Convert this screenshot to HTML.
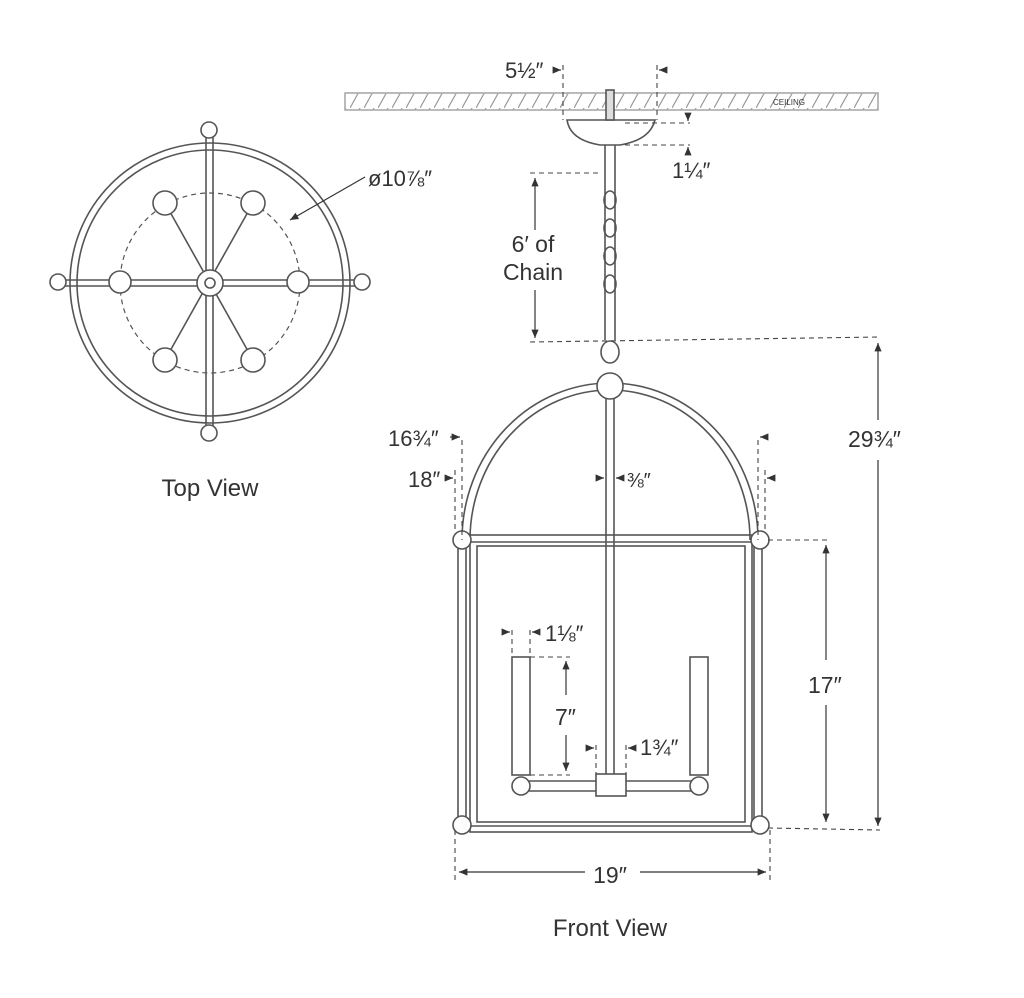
<!DOCTYPE html>
<html><head><style>
html,body{margin:0;padding:0;background:#fff;}
svg{display:block}
text{font-family:"Liberation Sans",sans-serif;fill:#333;}
</style></head><body>
<svg width="1024" height="998" viewBox="0 0 1024 998" xmlns="http://www.w3.org/2000/svg">
<defs>
<pattern id="h" width="14" height="18" patternUnits="userSpaceOnUse"><line x1="0" y1="18" x2="10" y2="0" stroke="#999" stroke-width="1.2"/></pattern>
<marker id="a" markerWidth="8" markerHeight="8" refX="7" refY="4" orient="auto"><path d="M0,1 L7,4 L0,7 z" fill="#333"/></marker>
</defs>
<g fill="none" stroke="#555" stroke-width="1.6">
<circle cx="210" cy="283" r="140"/>
<circle cx="210" cy="283" r="133"/>
<circle cx="210" cy="283" r="90" stroke-dasharray="5,4" stroke-width="1.2"/>
<line x1="58" y1="280" x2="362" y2="280"/><line x1="58" y1="286" x2="362" y2="286"/>
<line x1="206" y1="130" x2="206" y2="433"/><line x1="213" y1="130" x2="213" y2="433"/>
<line x1="165" y1="203" x2="253" y2="360"/><line x1="253" y1="203" x2="165" y2="360"/>
<g fill="#fff">
<circle cx="58" cy="282" r="8"/><circle cx="362" cy="282" r="8"/><circle cx="209" cy="130" r="8"/><circle cx="209" cy="433" r="8"/>
<circle cx="165" cy="203" r="12"/><circle cx="253" cy="203" r="12"/><circle cx="120" cy="282" r="11"/><circle cx="298" cy="282" r="11"/><circle cx="165" cy="360" r="12"/><circle cx="253" cy="360" r="12"/>
<circle cx="210" cy="283" r="13"/><circle cx="210" cy="283" r="5"/>
</g>
<rect x="345" y="93" width="533" height="17" fill="url(#h)" stroke="#aaa"/>
<path d="M567,120 L655,120 Q650,140 620,145 L600,145 Q570,140 567,120 Z" fill="#fff"/>
<rect x="606" y="90" width="8" height="30" fill="#ddd"/>
<line x1="605" y1="145" x2="605" y2="340"/><line x1="615" y1="145" x2="615" y2="340"/>
<ellipse cx="610" cy="200" rx="6" ry="9"/><ellipse cx="610" cy="228" rx="6" ry="9"/><ellipse cx="610" cy="256" rx="6" ry="9"/><ellipse cx="610" cy="284" rx="6" ry="9"/>
<ellipse cx="610" cy="352" rx="9" ry="11" fill="#fff"/>
<path d="M462,540 A148,157 0 0 1 758,540"/>
<path d="M470,540 A140,150 0 0 1 750,540"/>
<circle cx="610" cy="386" r="13" fill="#fff"/>
<line x1="606" y1="398" x2="606" y2="776"/><line x1="614" y1="398" x2="614" y2="776"/>
<line x1="458" y1="540" x2="458" y2="825"/><line x1="466" y1="540" x2="466" y2="825"/>
<line x1="754" y1="540" x2="754" y2="825"/><line x1="762" y1="540" x2="762" y2="825"/>
<rect x="470" y="535" width="282" height="297"/>
<rect x="477" y="546" width="268" height="276"/>
<line x1="470" y1="542" x2="752" y2="542"/><line x1="470" y1="826" x2="752" y2="826"/>
<g fill="#fff"><circle cx="462" cy="540" r="9"/><circle cx="760" cy="540" r="9"/><circle cx="462" cy="825" r="9"/><circle cx="760" cy="825" r="9"/></g>
<rect x="512" y="657" width="18" height="118"/><rect x="690" y="657" width="18" height="118"/>
<line x1="520" y1="781" x2="700" y2="781"/><line x1="520" y1="791" x2="700" y2="791"/>
<g fill="#fff"><circle cx="521" cy="786" r="9"/><circle cx="699" cy="786" r="9"/><rect x="596" y="774" width="30" height="22"/></g>
</g>
<g fill="none" stroke="#444" stroke-width="1.1" stroke-dasharray="5,4">
<line x1="563" y1="65" x2="563" y2="120"/><line x1="657" y1="65" x2="657" y2="120"/>
<line x1="625" y1="123" x2="690" y2="123"/><line x1="625" y1="145" x2="690" y2="145"/>
<line x1="530" y1="173" x2="600" y2="173"/><line x1="530" y1="342" x2="880" y2="337"/>
<line x1="462" y1="440" x2="462" y2="540"/><line x1="758" y1="440" x2="758" y2="540"/>
<line x1="455" y1="470" x2="455" y2="530"/><line x1="765" y1="470" x2="765" y2="530"/>
<line x1="768" y1="540" x2="830" y2="540"/><line x1="768" y1="828" x2="880" y2="830"/>
<line x1="455" y1="830" x2="455" y2="880"/><line x1="770" y1="830" x2="770" y2="880"/>
<line x1="512" y1="630" x2="512" y2="657"/><line x1="530" y1="630" x2="530" y2="657"/>
<line x1="530" y1="657" x2="570" y2="657"/><line x1="530" y1="775" x2="570" y2="775"/>
<line x1="596" y1="745" x2="596" y2="774"/><line x1="626" y1="745" x2="626" y2="774"/>
</g>
<g stroke="#333" stroke-width="1.2" fill="none">
<line x1="535" y1="230" x2="535" y2="178" marker-end="url(#a)"/><line x1="535" y1="290" x2="535" y2="338" marker-end="url(#a)"/>
<line x1="878" y1="420" x2="878" y2="343" marker-end="url(#a)"/><line x1="878" y1="460" x2="878" y2="826" marker-end="url(#a)"/>
<line x1="826" y1="660" x2="826" y2="545" marker-end="url(#a)"/><line x1="826" y1="705" x2="826" y2="822" marker-end="url(#a)"/>
<line x1="585" y1="872" x2="459" y2="872" marker-end="url(#a)"/><line x1="640" y1="872" x2="766" y2="872" marker-end="url(#a)"/>
<line x1="566" y1="695" x2="566" y2="661" marker-end="url(#a)"/><line x1="566" y1="735" x2="566" y2="771" marker-end="url(#a)"/>
<line x1="365" y1="177" x2="290" y2="220" marker-end="url(#a)"/>
<line x1="688" y1="115" x2="688" y2="121" marker-end="url(#a)"/><line x1="688" y1="153" x2="688" y2="147" marker-end="url(#a)"/>
<line x1="553" y1="70" x2="561" y2="70" marker-end="url(#a)"/><line x1="665" y1="70" x2="659" y2="70" marker-end="url(#a)"/>
<line x1="450" y1="437" x2="460" y2="437" marker-end="url(#a)"/><line x1="768" y1="437" x2="760" y2="437" marker-end="url(#a)"/>
<line x1="445" y1="478" x2="453" y2="478" marker-end="url(#a)"/><line x1="775" y1="478" x2="767" y2="478" marker-end="url(#a)"/>
<line x1="598" y1="478" x2="604" y2="478" marker-end="url(#a)"/><line x1="622" y1="478" x2="616" y2="478" marker-end="url(#a)"/>
<line x1="504" y1="632" x2="510" y2="632" marker-end="url(#a)"/><line x1="538" y1="632" x2="532" y2="632" marker-end="url(#a)"/>
<line x1="588" y1="748" x2="594" y2="748" marker-end="url(#a)"/><line x1="634" y1="748" x2="628" y2="748" marker-end="url(#a)"/>
</g>
<text x="505" y="78" font-size="22">5½″</text>
<text x="773" y="105" font-size="8" fill="#bbb">CEILING</text>
<text x="672" y="178" font-size="22">1¼″</text>
<text x="368" y="186" font-size="22">ø10⅞″</text>
<text x="533" y="252" font-size="23" text-anchor="middle">6′ of</text>
<text x="533" y="280" font-size="23" text-anchor="middle">Chain</text>
<text x="388" y="446" font-size="22">16¾″</text>
<text x="408" y="487" font-size="22">18″</text>
<text x="627" y="487" font-size="20">⅜″</text>
<text x="848" y="447" font-size="23">29¾″</text>
<text x="808" y="693" font-size="23">17″</text>
<text x="545" y="641" font-size="22">1⅛″</text>
<text x="555" y="725" font-size="23">7″</text>
<text x="640" y="755" font-size="22">1¾″</text>
<text x="610" y="883" font-size="23" text-anchor="middle">19″</text>
<text x="210" y="496" font-size="24" text-anchor="middle">Top View</text>
<text x="610" y="936" font-size="24" text-anchor="middle">Front View</text>
</svg>
</body></html>
